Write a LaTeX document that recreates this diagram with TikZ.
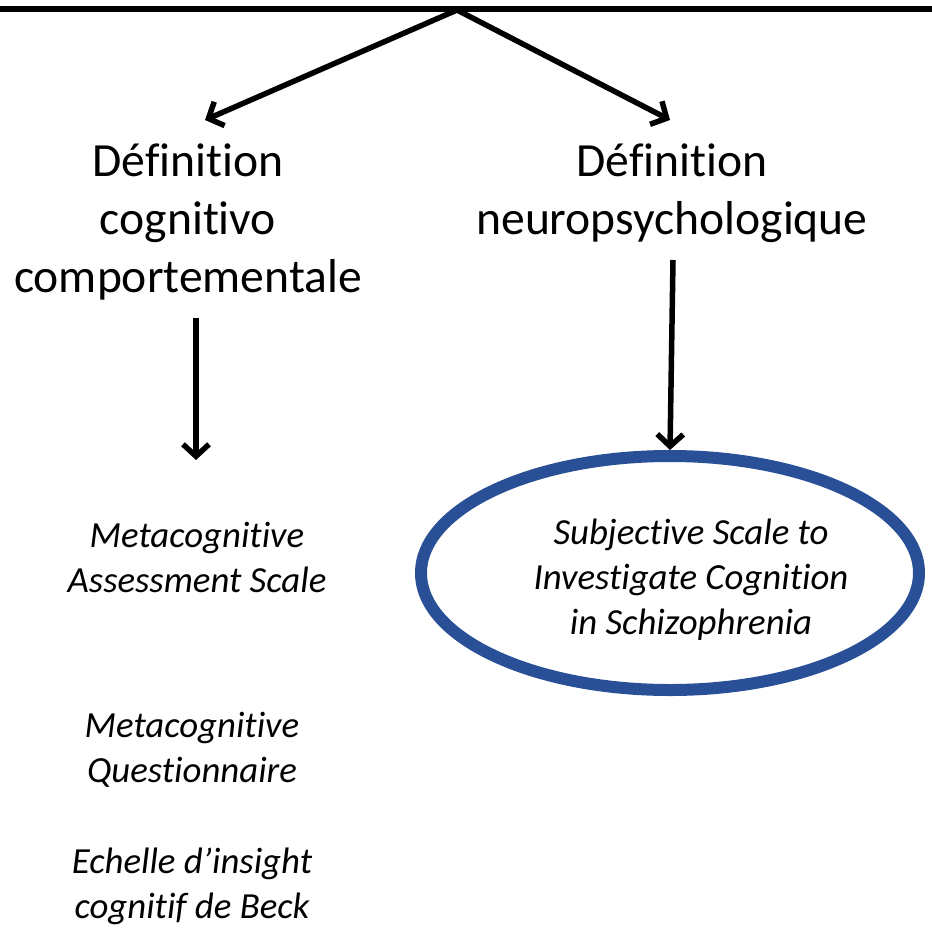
\documentclass[tikz,border=0pt]{standalone}
\usepackage{fontspec}
\setmainfont[Ligatures=NoCommon]{Carlito}
\usetikzlibrary{arrows.meta,shapes.geometric}
\definecolor{ellblue}{RGB}{41,79,150}
\tikzset{
  bigtext/.style={align=center,font=\fontsize{47.6}{58}\selectfont,inner sep=0pt},
  smalltext/.style={align=center,font=\fontsize{36.8}{45}\selectfont\itshape,inner sep=0pt},
  arr/.style={line width=5.5pt,-{Straight Barb[length=12pt,width=26pt,line width=5.5pt]}},
  thick line/.style={line width=6pt}
}
\begin{document}
\begin{tikzpicture}[x=1pt,y=-1pt]
\useasboundingbox (0,0) rectangle (932,927);
% top line
\coordinate (topL) at (0,9);
\coordinate (topR) at (932,9);
\coordinate (apex) at (457,10);
\draw[thick line] (topL) -- (topR);
% definitions
\node[bigtext] (defL) at (188,222) {Définition\\cognitivo\\comportementale};
\node[bigtext] (defR) at (672,193) {Définition\\neuropsychologique};
\coordinate (tipL) at (205,120);
\coordinate (tipR) at (670,120);
\draw[arr] (apex) -- (tipL);
\draw[arr] (apex) -- (tipR);
% ellipse
\node[draw=ellblue,line width=12pt,ellipse,minimum width=498pt,minimum height=234pt,inner sep=0pt] (ell) at (670,573) {};
\node[smalltext] (ssti) at (691,580) {Subjective Scale to\\Investigate Cognition\\in Schizophrenia};
% left items
\node[smalltext] (mas) at (197,557) {Metacognitive\\Assessment Scale};
\node[smalltext] (mcq) at (192,750) {Metacognitive\\Questionnaire};
\node[smalltext] (beck) at (192,886) {Echelle d’insight\\cognitif de Beck};
% vertical arrows
\coordinate (startL) at (196,318);
\coordinate (endL) at (196,460);
\coordinate (startR) at (673,260);
\draw[arr] (startL) -- (endL);
\draw[arr] (startR) -- (ell.north);
\end{tikzpicture}
\end{document}
